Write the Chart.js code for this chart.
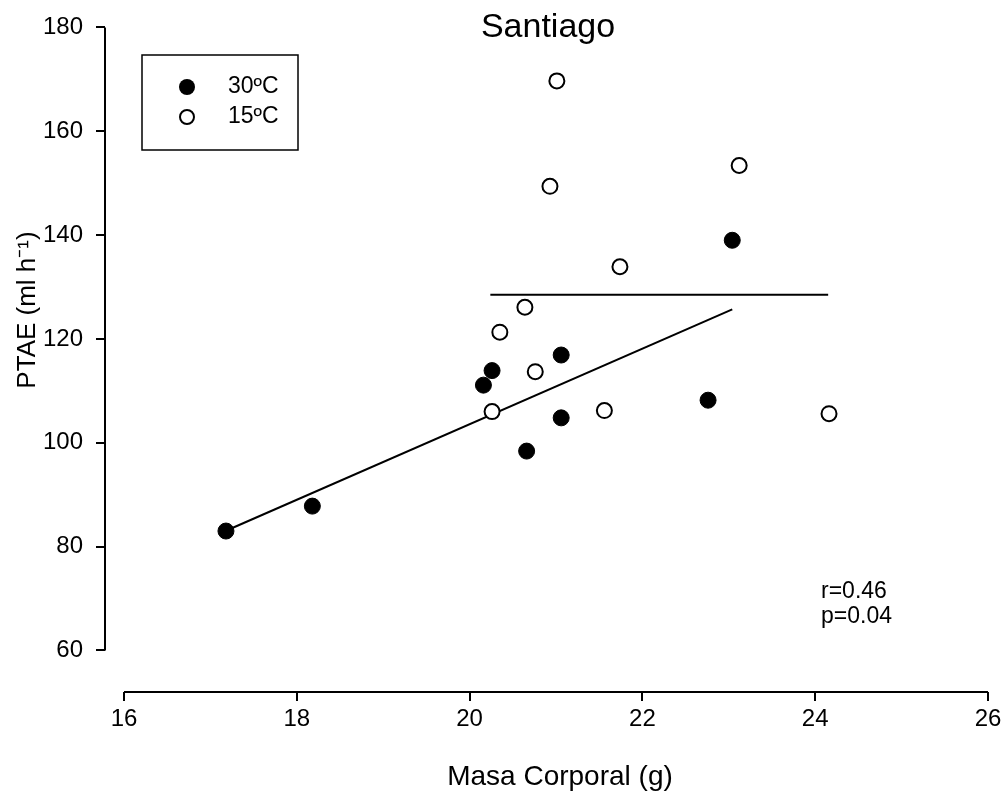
<!DOCTYPE html>
<html>
<head>
	<meta charset="UTF-8">
	<title>Santiago - PTAE vs Masa Corporal</title>
	<style>
		body { margin: 0; background: #fff; }
		#wrap { width: 1007px; height: 799px; }
	</style>
	<script src="https://cdn.jsdelivr.net/npm/chart.js@4.4.1/dist/chart.umd.min.js"></script>
</head>
<body>
	<div id="wrap"><canvas id="canvas"></canvas></div>
	<script>
		// 30ºC (filled)
		var hotX = [17.18, 18.18, 20.16, 20.26, 21.06, 20.66, 21.06, 22.76, 23.04];
		var hotY = [83.0, 87.8, 111.1, 113.9, 116.9, 98.4, 104.8, 108.2, 139.0];
		// 15ºC (open)
		var coldX = [21.01, 23.12, 20.93, 21.74, 20.64, 20.35, 20.76, 20.26, 21.56, 24.16];
		var coldY = [169.7, 153.4, 149.4, 133.9, 126.1, 121.3, 113.7, 106.0, 106.2, 105.6];
		// fitted lines
		var fitHotX = [17.2, 23.04];
		var fitHotY = [83.2, 125.7];
		var fitColdX = [20.24, 24.15];
		var fitColdY = [128.5, 128.5];

		var xTicks = [16, 18, 20, 22, 24, 26];
		var yTicks = [60, 80, 100, 120, 140, 160, 180];

		var FONT = '"Liberation Sans", Arial, sans-serif';

		function pts(xs, ys) {
			return xs.map(function(x, i){ return { x: x, y: ys[i] }; });
		}

		var overlay = {
			id: 'overlay',
			afterDraw: function(chart) {
				var ctx = chart.ctx, a = chart.chartArea;
				var sx = chart.scales.x, sy = chart.scales.y;
				ctx.save();
				ctx.strokeStyle = '#000';
				ctx.fillStyle = '#000';
				ctx.lineWidth = 2;

				// axis lines, only over the tick range
				ctx.beginPath();
				ctx.moveTo(a.left, sy.getPixelForValue(yTicks[yTicks.length - 1]));
				ctx.lineTo(a.left, sy.getPixelForValue(yTicks[0]));
				ctx.moveTo(sx.getPixelForValue(xTicks[0]), a.bottom);
				ctx.lineTo(sx.getPixelForValue(xTicks[xTicks.length - 1]), a.bottom);
				ctx.stroke();

				// title
				ctx.font = '34px ' + FONT;
				ctx.textAlign = 'center';
				ctx.textBaseline = 'alphabetic';
				ctx.fillText('Santiago', 548, 37);

				// x title
				ctx.font = '28px ' + FONT;
				ctx.textBaseline = 'middle';
				ctx.fillText('Masa Corporal (g)', 560, 777);

				// y title
				ctx.save();
				ctx.translate(28, 310);
				ctx.rotate(-Math.PI / 2);
				ctx.font = '26px ' + FONT;
				ctx.fillText('PTAE (ml h\u207B\u00B9)', 0, 0);
				ctx.restore();

				// legend
				ctx.lineWidth = 1.5;
				ctx.strokeRect(142, 55, 156, 95);
				ctx.beginPath();
				ctx.arc(187, 87, 8, 0, Math.PI * 2);
				ctx.fill();
				ctx.lineWidth = 2;
				ctx.beginPath();
				ctx.arc(187, 117, 7, 0, Math.PI * 2);
				ctx.stroke();
				ctx.font = '23px ' + FONT;
				ctx.textAlign = 'left';
				ctx.fillText('30\u00BAC', 228, 87);
				ctx.fillText('15\u00BAC', 228, 117);

				// stats
				ctx.fillText('r=0.46', 821, 592);
				ctx.fillText('p=0.04', 821, 617);
				ctx.restore();
			}
		};

		var tickFont = { family: FONT, size: 24 };

		new Chart(document.getElementById('canvas').getContext('2d'), {
			type: 'scatter',
			data: {
				datasets: [{
					label: '30ºC',
					data: pts(hotX, hotY),
					pointRadius: 8,
					pointBackgroundColor: '#000',
					pointBorderColor: '#000',
					pointBorderWidth: 1
				}, {
					label: '15ºC',
					data: pts(coldX, coldY),
					pointRadius: 7.5,
					pointBackgroundColor: '#fff',
					pointBorderColor: '#000',
					pointBorderWidth: 2
				}, {
					label: 'fit 30',
					data: pts(fitHotX, fitHotY),
					showLine: true,
					pointRadius: 0,
					borderColor: '#000',
					borderWidth: 2
				}, {
					label: 'fit 15',
					data: pts(fitColdX, fitColdY),
					showLine: true,
					pointRadius: 0,
					borderColor: '#000',
					borderWidth: 2
				}]
			},
			options: {
				responsive: true,
				maintainAspectRatio: false,
				animation: false,
				layout: { padding: { left: 0, top: 23, right: 19, bottom: 0 } },
				plugins: {
					legend: { display: false },
					tooltip: { enabled: false },
					title: { display: false }
				},
				scales: {
					x: {
						type: 'linear',
						min: 15.78,
						max: 26,
						afterBuildTicks: function(s){ s.ticks = xTicks.map(function(v){ return { value: v }; }); },
						afterFit: function(s){ s.height = 107; },
						border: { display: false },
						grid: { display: true, drawOnChartArea: false, drawTicks: true, tickLength: 9, color: '#000', lineWidth: 2 },
						ticks: { color: '#000', font: tickFont, padding: 4, maxRotation: 0, autoSkip: false }
					},
					y: {
						type: 'linear',
						min: 52,
						max: 180,
						afterBuildTicks: function(s){ s.ticks = yTicks.map(function(v){ return { value: v }; }); },
						afterFit: function(s){ s.width = 105; },
						border: { display: false },
						grid: { display: true, drawOnChartArea: false, drawTicks: true, tickLength: 9, color: '#000', lineWidth: 2 },
						ticks: { color: '#000', font: tickFont, padding: 13, autoSkip: false }
					}
				}
			},
			plugins: [overlay]
		});
	</script>
</body>
</html>
